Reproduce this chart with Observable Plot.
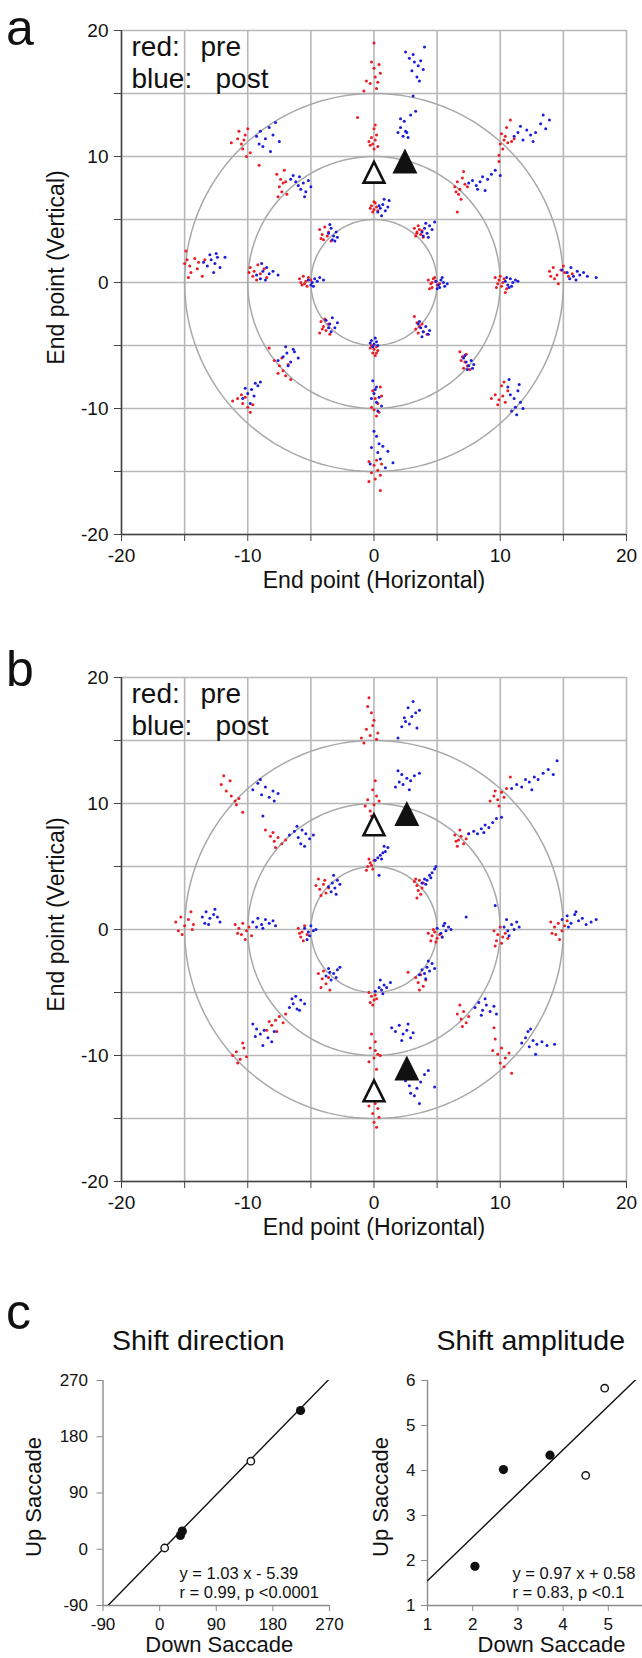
<!DOCTYPE html>
<html><head><meta charset="utf-8">
<script src="https://cdn.jsdelivr.net/npm/d3@7"></script>
<script src="https://cdn.jsdelivr.net/npm/@observablehq/plot@0.6"></script>
<style>
html,body{margin:0;padding:0;background:#fff;overflow:hidden;}
#fig{position:relative;width:642px;height:1658px;overflow:hidden;font-family:"Liberation Sans",Arial,Helvetica,sans-serif;color:#111;background:#fff;}
#fig svg{position:absolute;overflow:visible;max-width:none;}
.lbl{position:absolute;font-size:50px;line-height:0.9;left:6px;}
</style></head><body><div id="fig"></div>
<script>
// ---------- DATA ----------
const gridTicks = [-20,-15,-10,-5,0,5,10,15,20];
const labelTicks = [-20,-10,0,10,20];
const ringRadii = [5,10,15];

// panel a, pre-adaptation (red) end points, one string per target
const preA = [
 "4.3,0.2 4.5,-0.1 4.7,0.3 4.6,-0.4 4.9,0.1 4.4,-0.5 5.0,-0.2 4.8,0.4 4.6,0.0 5.2,-0.1",
 "9.6,0.4 9.9,0.2 10.1,-0.3 9.8,-0.1 10.3,0.3 10.0,0.5 10.5,-0.5 9.7,-0.4 10.2,0.0 10.4,-0.8",
 "13.9,0.9 14.2,1.2 14.5,0.6 14.8,1.0 14.3,0.3 15.1,0.8 14.6,-0.1 15.4,0.5 14.0,0.5 15.0,1.3 15.7,0.7",
 "-5.9,0.3 -5.6,0.5 -5.4,0.1 -5.7,-0.2 -5.2,0.4 -5.5,-0.1 -5.0,0.2 -5.8,0.0 -5.3,-0.3",
 "-9.8,1.2 -9.5,0.9 -9.2,1.4 -9.6,0.5 -9.0,0.7 -8.7,1.1 -9.3,0.2 -8.5,0.4 -9.9,0.8",
 "-14.9,2.5 -14.8,1.8 -14.6,1.3 -14.2,1.9 -13.9,1.6 -14.5,0.8 -13.6,0.5 -14.0,1.1 -14.7,0.4 -13.4,1.8 -15.0,1.5",
 "-0.2,6.1 0.0,5.8 0.1,6.3 -0.1,5.6 0.2,6.0 -0.3,5.9 0.0,6.4 0.3,5.7",
 "-0.1,11.0 0.1,11.3 -0.3,10.9 0.2,11.7 0.0,12.2 -0.2,11.5 0.3,10.8 0.1,12.5 -0.4,11.2 -1.3,13.1 0.0,10.6",
 "0.0,19.0 -0.2,17.5 0.4,17.3 0.1,16.3 -0.3,15.8 0.5,16.6 -0.6,16.0 0.2,15.4 -0.8,15.2 0.0,17.0 0.3,15.9",
 "-0.2,-5.0 0.0,-5.3 0.2,-5.1 -0.1,-5.6 0.3,-5.4 -0.3,-5.2 0.1,-5.8 0.2,-5.6",
 "-0.1,-8.6 0.1,-9.2 0.3,-9.6 -0.2,-9.9 0.4,-10.3 0.0,-10.1 0.6,-9.0 0.2,-10.6 0.5,-8.3",
 "-0.4,-14.2 0.0,-14.5 0.3,-14.9 -0.2,-15.1 0.5,-15.3 0.1,-15.6 -0.4,-15.8 0.6,-14.4 0.5,-16.5 0.2,-14.1",
 "3.2,4.3 3.4,4.0 3.5,4.5 3.7,3.8 3.3,3.7 3.6,4.2 3.9,3.6 3.8,4.1 3.4,3.9",
 "6.4,7.6 6.6,8.0 6.8,7.4 7.0,8.3 6.7,7.0 7.2,7.8 6.5,7.2 7.1,8.8 6.9,6.6 6.6,5.6 7.4,7.6",
 "10.0,11.0 10.3,11.3 10.6,11.1 10.9,11.2 10.2,10.6 10.1,11.8 10.5,12.3 9.9,10.1 9.9,9.6 11.1,11.4 10.8,12.9 10.4,11.6",
 "-4.3,4.2 -4.1,3.8 -3.9,4.4 -4.0,3.4 -3.7,3.7 -3.6,4.0 -4.2,3.5 -3.4,3.3",
 "-7.7,8.6 -7.4,8.2 -7.2,7.9 -7.5,7.6 -7.0,8.0 -7.3,7.2 -6.9,7.0 -7.6,6.8 -7.1,8.9",
 "-10.8,11.4 -10.5,11.0 -10.2,11.7 -10.0,12.2 -10.4,10.6 -9.8,10.3 -10.7,12.0 -10.1,10.0 -11.3,11.1 -9.1,9.3 -10.3,11.3",
 "-4.2,-3.1 -4.0,-3.5 -3.8,-3.8 -3.6,-3.3 -4.3,-4.0 -3.9,-2.9 -3.5,-4.1 -4.1,-3.7",
 "-7.9,-6.2 -7.5,-6.6 -7.2,-7.0 -7.0,-7.4 -6.8,-6.5 -7.6,-7.2 -8.3,-5.2 -6.6,-7.7 -7.3,-6.0",
 "-11.2,-9.4 -10.8,-9.2 -10.4,-9.6 -10.0,-9.9 -9.8,-10.3 -10.5,-8.9 -10.2,-9.1 -9.6,-9.7",
 "3.2,-2.7 3.4,-3.2 3.6,-3.5 3.9,-3.9 3.5,-4.0 3.3,-3.7 3.8,-3.3 4.2,-4.1",
 "6.8,-5.5 7.0,-5.9 7.2,-6.3 7.4,-6.6 7.1,-6.8 6.9,-6.2 7.6,-6.9 7.3,-5.7",
 "9.3,-9.2 9.6,-8.9 9.9,-9.3 10.2,-9.0 10.4,-9.5 10.1,-8.2 10.3,-7.9 9.8,-9.7 10.6,-8.6"
];
// panel a, post-adaptation (blue)
const postA = [
 "4.9,0.1 5.1,-0.2 5.3,0.2 5.5,0.0 5.2,-0.4 5.6,-0.3 5.8,-0.1 5.4,0.4 5.0,-0.5",
 "10.4,0.1 10.6,-0.2 10.8,0.3 11.0,0.0 10.7,-0.4 11.2,0.2 11.4,0.1 10.9,-0.3 10.5,0.4",
 "14.9,1.0 15.3,0.8 15.6,1.2 15.8,0.5 16.1,0.9 16.3,0.6 16.6,0.8 16.9,0.5 15.5,0.3 17.6,0.4 16.0,0.2",
 "-5.2,0.2 -4.9,0.0 -4.7,0.3 -5.0,-0.2 -4.5,0.1 -4.3,0.4 -4.8,-0.3 -4.0,0.2",
 "-9.3,0.6 -9.0,0.3 -8.8,0.9 -8.5,1.2 -8.9,1.5 -8.3,0.7 -8.0,0.9 -7.6,0.6 -8.6,0.2",
 "-13.5,1.6 -13.2,1.3 -12.9,1.8 -12.6,1.5 -12.4,2.0 -12.7,0.8 -12.2,1.2 -11.8,2.0 -13.0,2.2 -12.5,2.3",
 "0.3,5.6 0.5,5.9 0.7,6.2 0.9,5.7 1.1,6.0 0.6,5.3 1.2,6.5 0.8,6.6 0.4,6.1",
 "1.9,11.9 2.1,12.3 2.3,11.6 2.5,12.0 2.7,11.5 2.4,12.8 2.9,13.3 2.1,13.0 3.3,13.6 3.1,14.8 2.6,11.9",
 "2.5,18.3 2.8,17.8 3.2,17.5 3.5,17.2 3.7,17.6 3.0,16.8 3.4,16.3 3.9,16.9 4.0,18.7 3.1,18.1 3.6,16.0",
 "-0.2,-4.6 0.0,-4.9 0.2,-4.7 -0.1,-5.1 0.3,-5.0 -0.3,-4.8 0.1,-4.4",
 "-0.1,-7.8 0.2,-8.3 0.0,-8.8 0.4,-9.1 0.2,-9.5 -0.2,-9.2 0.6,-9.8 0.3,-10.2 0.1,-8.5",
 "0.0,-11.8 0.2,-12.2 0.4,-12.8 -0.2,-13.1 0.3,-13.5 0.7,-13.0 1.1,-13.4 0.5,-14.0 0.9,-14.7 1.5,-14.3 -0.3,-14.4",
 "3.8,4.0 4.0,4.3 4.2,3.9 4.4,4.5 4.6,4.2 4.1,4.7 4.8,4.8 4.3,3.6 3.9,3.7",
 "7.5,7.9 7.8,8.1 8.1,7.7 8.4,8.0 8.6,8.4 8.2,7.4 9.0,8.2 9.3,8.6 9.6,8.9 10.0,8.5 8.8,7.3",
 "11.1,11.6 11.4,11.9 11.8,11.3 12.1,12.1 12.4,11.7 11.6,12.4 12.8,11.9 13.2,12.6 13.6,12.2 13.9,12.9 13.4,13.3 12.6,11.2",
 "-3.6,3.9 -3.4,4.3 -3.2,3.7 -3.0,4.0 -3.3,3.4 -2.9,3.6 -3.5,4.6 -3.1,3.3",
 "-6.6,8.2 -6.2,8.0 -5.9,8.4 -5.6,7.9 -5.2,8.1 -5.8,7.4 -5.4,7.2 -5.0,7.6 -6.0,7.7 -5.5,6.8 -6.4,8.5",
 "-9.3,11.6 -9.0,12.0 -8.6,11.4 -8.3,12.3 -8.0,11.7 -7.8,12.7 -8.8,10.8 -7.5,11.2 -8.2,10.4 -9.1,11.0",
 "-3.8,-3.0 -3.5,-3.3 -3.3,-2.8 -3.1,-3.6 -3.4,-3.9 -2.9,-3.2 -3.6,-3.6",
 "-7.6,-6.2 -7.2,-5.9 -6.9,-5.6 -6.6,-6.3 -6.3,-5.5 -6.8,-6.6 -6.0,-6.0 -7.0,-5.1 -6.4,-5.3",
 "-10.4,-9.2 -10.0,-8.8 -9.7,-8.5 -9.5,-9.0 -9.2,-8.2 -9.8,-9.6 -9.0,-7.9 -10.2,-8.4 -9.4,-8.0",
 "3.5,-3.3 3.7,-3.6 3.9,-3.9 4.1,-3.5 4.3,-4.1 3.8,-4.3 3.6,-3.1 4.4,-3.8",
 "7.1,-6.0 7.3,-6.3 7.5,-6.6 7.7,-6.2 7.4,-6.9 7.8,-6.8 7.2,-5.8 7.9,-6.5",
 "10.6,-8.3 10.8,-8.9 11.1,-9.2 11.4,-8.6 11.6,-9.5 11.2,-9.9 10.9,-10.2 11.8,-10.0 10.7,-7.7 11.3,-10.5 11.5,-8.1"
];
// panel b, pre (red)
const preB = [
 "4.3,-0.3 4.6,-0.5 4.8,-0.2 5.0,-0.7 4.5,-0.9 5.2,-0.4 4.9,-1.0 4.7,0.0 5.4,-0.6",
 "9.5,-0.1 9.8,-0.4 10.0,0.2 10.2,-0.6 9.7,-0.9 10.4,-0.3 10.1,-1.1 9.6,-1.3 10.6,-0.7",
 "14.0,0.6 14.3,0.2 14.6,0.5 14.9,-0.1 14.4,-0.4 15.1,0.3 14.7,-0.8 14.1,-0.3 15.3,0.7",
 "-6.0,0.1 -5.7,-0.2 -5.5,0.3 -5.8,-0.6 -5.3,-0.4 -5.6,-0.9 -5.9,-0.3",
 "-11.0,0.4 -10.7,0.1 -10.4,0.5 -10.1,-0.1 -10.5,-0.4 -9.9,0.2 -10.2,-0.8 -10.8,-0.3 -9.7,-0.5",
 "-15.7,0.6 -15.3,1.0 -15.0,0.3 -14.7,0.8 -14.4,0.0 -15.2,-0.4 -14.5,1.4 -15.5,-0.1 -14.3,0.4",
 "-0.5,5.0 -0.3,5.3 -0.1,4.8 0.0,5.5 -0.4,5.6 -0.2,5.1 -0.6,4.7",
 "-0.3,9.4 0.0,9.9 -0.5,10.3 0.2,10.6 -0.1,11.1 0.4,10.2 -0.7,9.8 0.1,11.8 -0.2,9.0",
 "-0.4,18.4 -0.2,17.2 0.0,16.6 -0.6,15.9 -0.3,15.4 0.2,15.1 -0.8,14.8 -1.0,15.2 -0.1,16.2 0.3,15.6 -0.5,17.7",
 "-0.4,-5.0 -0.2,-5.3 0.0,-5.6 -0.3,-5.8 0.1,-5.2 -0.1,-6.0 0.2,-5.5",
 "-0.2,-8.3 0.1,-8.9 -0.3,-9.4 0.3,-9.9 0.0,-10.2 0.5,-10.0 -0.4,-10.5 0.2,-11.1 0.1,-9.6",
 "-0.3,-13.4 0.1,-13.8 0.3,-14.2 -0.1,-14.6 0.4,-14.9 0.0,-15.3 0.2,-15.7 -0.4,-14.0",
 "3.2,3.8 3.4,3.5 3.6,3.9 3.8,3.3 3.5,3.1 3.3,4.0 3.9,3.7 3.4,2.5 3.7,2.8",
 "6.4,7.5 6.7,7.1 6.9,7.4 7.1,6.8 6.6,6.6 7.3,7.2 6.8,7.9 7.5,7.6 6.5,7.0",
 "9.2,10.2 9.5,10.6 9.8,10.3 10.1,10.9 10.3,10.5 9.9,9.8 10.5,11.2 10.8,12.1 9.6,11.0",
 "-4.6,3.5 -4.3,3.2 -4.0,3.6 -3.8,2.9 -4.2,2.7 -3.6,3.3 -4.4,4.0 -3.9,3.9",
 "-8.6,7.9 -8.2,7.4 -7.9,7.0 -7.6,7.3 -7.3,6.8 -7.8,6.5 -7.0,7.1 -8.0,7.7",
 "-12.1,11.5 -11.7,11.0 -11.3,10.6 -11.0,10.2 -10.7,10.4 -11.4,11.8 -10.9,9.9 -11.9,12.2 -10.4,9.3",
 "-4.4,-3.5 -4.1,-3.9 -3.8,-4.3 -4.2,-4.6 -3.6,-3.8 -4.0,-3.3 -3.5,-4.8",
 "-8.5,-8.0 -8.1,-7.6 -7.8,-7.2 -7.5,-6.9 -7.2,-7.4 -7.7,-8.1 -8.3,-7.3 -7.0,-6.7",
 "-11.2,-10.0 -10.9,-9.7 -10.6,-10.3 -10.3,-9.4 -10.8,-10.6 -10.4,-9.0 -10.1,-10.1",
 "3.3,-3.8 3.5,-4.2 3.7,-3.6 3.9,-4.5 3.6,-4.8 4.1,-4.0 2.7,-3.4",
 "6.6,-6.7 6.9,-7.1 7.1,-6.5 7.3,-7.4 7.0,-7.7 7.5,-6.9 6.8,-6.0",
 "9.4,-9.6 9.8,-9.9 10.1,-9.4 10.4,-10.2 10.0,-10.6 10.7,-9.8 9.6,-8.7 9.5,-7.8 10.9,-11.4 10.3,-10.9"
];
// panel b, post (blue)
const postB = [
 "5.0,0.1 5.3,-0.3 5.5,0.3 5.7,-0.1 5.4,-0.6 5.9,0.2 6.1,0.0 5.6,0.5 7.3,1.0",
 "10.3,0.2 10.6,-0.1 10.9,0.4 11.1,0.0 10.7,-0.5 11.3,0.6 11.5,0.2 10.5,0.8 9.6,1.9",
 "14.9,0.8 15.3,1.1 15.6,0.5 15.9,1.2 16.2,0.7 16.5,0.9 16.8,0.4 17.2,0.6 17.6,0.8 15.4,0.2 16.0,1.4",
 "-5.5,0.1 -5.2,-0.2 -5.0,0.3 -4.8,-0.1 -5.1,-0.5 -4.6,0.0 -5.3,-0.8",
 "-9.6,0.6 -9.2,0.9 -8.9,0.4 -8.6,0.8 -8.3,0.5 -8.0,0.7 -8.8,0.1 -9.3,0.2 -7.8,0.3",
 "-13.6,1.0 -13.3,1.4 -13.0,0.9 -12.7,1.2 -12.4,1.0 -13.1,0.4 -12.6,1.6 -12.2,0.6 -13.4,0.5",
 "0.1,5.5 0.3,5.7 0.5,5.9 0.7,6.1 0.9,6.2 1.1,6.5 0.6,5.6 0.8,6.6 0.4,4.3",
 "1.7,11.3 2.0,11.7 2.3,11.5 2.6,12.0 2.9,11.8 3.2,12.2 3.6,12.4 2.2,12.3 2.8,11.1 1.9,12.6",
 "1.9,15.2 2.2,16.1 2.5,16.5 2.8,16.3 3.0,16.9 3.3,17.2 2.7,17.6 3.1,18.1 3.6,17.4 2.4,16.8 3.4,16.0",
 "0.1,-4.9 0.4,-4.6 0.6,-4.8 0.8,-4.4 1.0,-4.6 1.3,-4.2 0.7,-5.1 0.5,-4.0",
 "1.4,-7.8 1.7,-8.1 2.0,-7.6 2.3,-8.3 2.6,-8.0 2.9,-8.6 2.2,-8.8 2.7,-7.5 3.1,-8.2",
 "2.5,-12.0 2.8,-12.4 3.1,-11.8 3.4,-12.6 3.7,-12.1 4.0,-11.5 4.3,-11.2 3.2,-13.2 3.6,-13.8 4.8,-12.5 2.9,-13.0",
 "3.8,3.7 4.0,4.0 4.2,3.9 4.4,4.3 4.6,4.5 4.8,4.8 4.1,3.6 4.5,4.1 4.9,5.0",
 "7.5,7.6 7.9,7.8 8.2,7.6 8.5,8.0 8.8,8.3 9.1,8.1 9.4,8.5 9.7,8.8 10.1,8.9 8.7,7.7",
 "10.9,11.2 11.3,11.5 11.7,11.3 12.0,11.9 12.3,11.7 12.7,12.1 13.0,11.9 13.4,12.4 13.8,12.7 14.2,12.3 14.5,13.4 12.5,11.1",
 "-3.6,3.4 -3.3,3.7 -3.1,3.3 -2.9,3.9 -3.2,4.3 -2.7,3.6 -3.4,3.0 -3.0,2.8",
 "-6.7,7.5 -6.3,7.8 -6.0,7.3 -5.7,7.9 -5.4,7.6 -5.1,7.2 -5.8,6.8 -6.1,8.2 -4.8,7.5 -5.5,6.6",
 "-9.6,11.1 -9.2,11.6 -8.9,10.7 -8.6,11.3 -8.3,10.5 -8.0,11.0 -7.6,10.8 -9.0,11.9 -8.8,9.0 -7.9,10.2",
 "-3.8,-3.7 -3.5,-3.4 -3.2,-3.5 -2.9,-3.2 -2.7,-3.0 -3.4,-4.0 -3.0,-3.8 -3.6,-3.1",
 "-6.7,-6.2 -6.4,-5.9 -6.1,-6.3 -5.8,-5.6 -5.5,-5.9 -6.2,-5.3 -5.9,-6.4 -6.5,-5.5",
 "-9.6,-7.5 -9.3,-7.9 -9.0,-8.3 -8.7,-8.0 -8.4,-8.6 -8.1,-8.9 -8.8,-9.2 -7.9,-8.1 -9.4,-8.5",
 "3.6,-3.6 3.8,-3.2 4.0,-3.5 4.2,-3.0 4.4,-3.3 4.6,-2.7 4.1,-3.9 4.8,-3.1 4.3,-2.5",
 "8.0,-6.2 8.3,-5.8 8.6,-6.4 8.9,-6.0 9.2,-6.5 9.5,-6.1 8.5,-6.8 8.8,-5.5 9.7,-6.7",
 "11.7,-9.0 12.0,-8.6 12.3,-9.3 12.6,-8.8 12.9,-9.1 13.3,-8.9 13.7,-9.2 12.4,-7.9 12.8,-9.9 12.2,-8.1 14.3,-9.1"
];
// triangles (target markers)
const openTriA = [{x: 0, y: 8.75}];
const fillTriA = [{x: 2.45, y: 9.65}];
const openTriB = [{x: 0, y: 8.3}, {x: 0, y: -12.8}];
const fillTriB = [{x: 2.6, y: 9.2}, {x: 2.6, y: -11.0}];

// panel c
const dirTicks = [-90, 0, 90, 180, 270];
const dirDown = [8, 33, 36, 145, 224];
const dirUp   = [2, 22, 29, 141, 222];
const dirFilled = [false, true, true, false, true];
const dirFit = {slope: 1.03, intercept: -5.39};
const dirText = ["y = 1.03 x - 5.39", "r = 0.99, p <0.0001"];

const ampXTicks = [1, 2, 3, 4, 5];
const ampYTicks = [1, 2, 3, 4, 5, 6];
const ampDown = [2.05, 2.68, 3.71, 4.5, 4.92];
const ampUp   = [1.87, 4.02, 4.34, 3.89, 5.83];
const ampFilled = [true, true, true, false, false];
const ampFit = {slope: 0.97, intercept: 0.58};
const ampText = ["y = 0.97 x + 0.58", "r = 0.83, p <0.1"];

// ---------- BUILD ----------
const FONT = '"Liberation Sans", Arial, Helvetica, sans-serif';
const RED = "#ec1c24", BLUE = "#1c1cdc";
const fig = document.getElementById("fig");

function parse(list, phase) {
  return list.flatMap(s => s.trim().split(/\s+/).map(p => {
    const [x, y] = p.split(",").map(Number);
    return {x, y, phase};
  }));
}
const ringPts = ringRadii.flatMap(r => d3.range(0, 361, 2).map(a => ({
  r, x: r * Math.cos(a * Math.PI / 180), y: r * Math.sin(a * Math.PI / 180)
})));
const triSym = {draw(ctx, size) {
  const k = Math.sqrt(size / Math.PI);
  ctx.moveTo(0, -k); ctx.lineTo(k, k); ctx.lineTo(-k, k); ctx.closePath();
}};

function endpointPanel(pre, post, openTri, fillTri) {
  const dots = [...parse(pre, "pre"), ...parse(post, "post")];
  return Plot.plot({
    width: 642, height: 600,
    marginLeft: 121, marginRight: 16, marginTop: 30, marginBottom: 66,
    x: {domain: [-20, 20], label: null},
    y: {domain: [-20, 20], label: null},
    style: {fontFamily: FONT, fontSize: "19px", background: "transparent", color: "#111", overflow: "visible"},
    marks: [
      Plot.gridX({ticks: gridTicks, stroke: "#b7b7b7", strokeOpacity: 1, strokeWidth: 1.6}),
      Plot.gridY({ticks: gridTicks, stroke: "#b7b7b7", strokeOpacity: 1, strokeWidth: 1.6}),
      Plot.line(ringPts, {x: "x", y: "y", z: "r", stroke: "#a8a8a8", strokeWidth: 1.5}),
      Plot.dot(dots, {x: "x", y: "y", r: 1.5, fill: d => d.phase === "pre" ? RED : BLUE, stroke: null}),
      Plot.ruleX([-20], {stroke: "#444", strokeWidth: 1.5}),
      Plot.ruleY([-20], {stroke: "#444", strokeWidth: 1.5}),
      Plot.axisX({ticks: gridTicks, tickSize: 7, tickPadding: 7, stroke: "#444", label: null,
        tickFormat: d => labelTicks.includes(d) ? String(d) : ""}),
      Plot.axisY({ticks: gridTicks, tickSize: 7, tickPadding: 6, stroke: "#444", label: null,
        tickFormat: d => labelTicks.includes(d) ? String(d) : ""}),
      Plot.dot(openTri, {x: "x", y: "y", symbol: triSym, r: 10.4, fill: "white", stroke: "#111", strokeWidth: 2.6}),
      Plot.dot(fillTri, {x: "x", y: "y", symbol: triSym, r: 12.5, fill: "#111", stroke: null}),
      Plot.text(["red:"], {frameAnchor: "top-left", dx: 10, dy: 25, lineAnchor: "bottom", textAnchor: "start", fontSize: 28}),
      Plot.text(["pre"], {frameAnchor: "top-left", dx: 79, dy: 25, lineAnchor: "bottom", textAnchor: "start", fontSize: 28}),
      Plot.text(["blue:"], {frameAnchor: "top-left", dx: 10, dy: 57, lineAnchor: "bottom", textAnchor: "start", fontSize: 28}),
      Plot.text(["post"], {frameAnchor: "top-left", dx: 94, dy: 57, lineAnchor: "bottom", textAnchor: "start", fontSize: 28}),
      Plot.text(["End point (Horizontal)"], {frameAnchor: "bottom", dx: 0, dy: 53, lineAnchor: "bottom", textAnchor: "middle", fontSize: 23}),
      Plot.text(["End point (Vertical)"], {frameAnchor: "left", dx: -57.5, dy: -15, rotate: -90, lineAnchor: "bottom", textAnchor: "middle", fontSize: 23})
    ]
  });
}

function scatterPanel(opts) {
  const {width, marginLeft, marginRight, domain, xTicks, yTicks, down, up, filled, fit, text, title,
         tickPadY, xLabelDx, yLabelDx, textDx} = opts;
  const pts = down.map((d, i) => ({down: d, up: up[i], filled: filled[i]}));
  const fitLine = domain.map(x => ({x, y: fit.slope * x + fit.intercept}));
  return Plot.plot({
    width, height: 368, marginLeft, marginRight, marginTop: 90, marginBottom: 53,
    x: {domain, label: null}, y: {domain, label: null},
    style: {fontFamily: FONT, fontSize: "17px", background: "transparent", color: "#111", overflow: "visible"},
    marks: [
      Plot.ruleX([domain[0]], {stroke: "#8a8a8a", strokeWidth: 1.4}),
      Plot.ruleY([domain[0]], {stroke: "#8a8a8a", strokeWidth: 1.4}),
      Plot.axisX({ticks: xTicks, tickSize: 6, tickPadding: 6, stroke: "#8a8a8a", label: null, tickFormat: d => String(d)}),
      Plot.axisY({ticks: yTicks, tickSize: 6, tickPadding: tickPadY, stroke: "#8a8a8a", label: null, tickFormat: d => String(d)}),
      Plot.line(fitLine, {x: "x", y: "y", clip: true, stroke: "#111", strokeWidth: 1.4}),
      Plot.dot(pts.filter(d => d.filled), {x: "down", y: "up", r: 4.6, fill: "#111", stroke: null}),
      Plot.dot(pts.filter(d => !d.filled), {x: "down", y: "up", r: 3.7, fill: "white", stroke: "#111", strokeWidth: 1.4}),
      Plot.text([text.join("\n")], {frameAnchor: "bottom-left", dx: textDx, dy: -7.5, lineAnchor: "bottom", textAnchor: "start", fontSize: 16.5, lineHeight: 1.15}),
      Plot.text([title], {frameAnchor: "top-left", dx: 9, dy: -31, lineAnchor: "bottom", textAnchor: "start", fontSize: 28.5}),
      Plot.text(["Down Saccade"], {frameAnchor: "bottom", dx: xLabelDx, dy: 46, lineAnchor: "bottom", textAnchor: "middle", fontSize: 22}),
      Plot.text(["Up Saccade"], {frameAnchor: "left", dx: yLabelDx, dy: 4, rotate: -90, lineAnchor: "bottom", textAnchor: "middle", fontSize: 22})
    ]
  });
}

function place(el, left, top) { el.style.left = left + "px"; el.style.top = top + "px"; fig.appendChild(el); }

place(endpointPanel(preA, postA, openTriA, fillTriA), 0, 0);
place(endpointPanel(preB, postB, openTriB, fillTriB), 0, 647);
place(scatterPanel({width: 360, marginLeft: 102.5, marginRight: 31, domain: [-90, 270], xTicks: dirTicks, yTicks: dirTicks,
  down: dirDown, up: dirUp, filled: dirFilled, fit: dirFit, text: dirText, title: "Shift direction",
  tickPadY: 9, xLabelDx: 3, yLabelDx: -62, textDx: 76.5}), 0, 1290);
place(scatterPanel({width: 350, marginLeft: 97, marginRight: 27, domain: [1, 6], xTicks: ampXTicks, yTicks: ampYTicks,
  down: ampDown, up: ampUp, filled: ampFilled, fit: ampFit, text: ampText, title: "Shift amplitude",
  tickPadY: 6, xLabelDx: 11, yLabelDx: -40, textDx: 85}), 330, 1290);

for (const [t, top] of [["a", 5.7], ["b", 647], ["c", 1290]]) {
  const d = document.createElement("div");
  d.className = "lbl"; d.textContent = t; d.style.top = top + "px";
  fig.appendChild(d);
}
</script></body></html>
